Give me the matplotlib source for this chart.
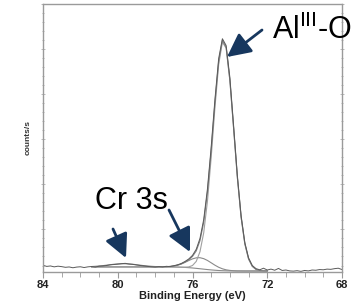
import matplotlib
matplotlib.use("Agg")
import matplotlib.pyplot as plt
from matplotlib.ticker import MultipleLocator, NullFormatter
import numpy as np

plt.rcParams["font.family"] = ["Liberation Sans", "DejaVu Sans"]
plt.rcParams["mathtext.fontset"] = "custom"
plt.rcParams["mathtext.rm"] = "Liberation Sans"
plt.rcParams["mathtext.it"] = "Liberation Sans"

# ---- data (binding energy grid, eV) ----
energy = np.linspace(84.0, 68.0, 81)
counts = [205, 180, 190, 170, 185, 175, 160, 168, 150, 165, 172, 155, 170, 178,
          165, 185, 190, 200, 215, 222, 230, 240, 248, 232, 225, 212, 200, 190,
          180, 172, 165, 175, 168, 182, 176,
          195, 215, 245, 290, 345, 425, 560, 800, 1220, 1900, 2830, 3880, 4790,
          5230, 5080, 4370, 3300, 2200, 1310, 710, 370, 200, 130, 105, 140, 100,
          120, 95, 135, 90, 100, 80, 75, 85, 70, 90, 80, 100, 95, 110, 105, 120,
          115, 130, 140, 110]

fit_energy = np.linspace(81.4, 72.0, 48)
background = [170] * 20 + [169, 168, 167, 165, 162, 158, 152, 145, 137, 128, 119,
                           110, 102, 95, 89, 85, 82, 80, 79, 78, 78, 78, 78, 78,
                           78, 78, 78, 78]
al_component = [170] * 20 + [169, 168, 167, 165, 163, 163, 169, 200, 291, 505, 926,
                             1625, 2597, 3699, 4654, 5155, 5020, 4300, 3239, 2154,
                             1274, 682, 346, 182, 113, 89, 81, 78]
cr_component = [170] * 18 + [171, 172, 174, 179, 189, 207, 234, 270, 310, 347, 370,
                             373, 352, 312, 260, 207, 161, 127, 104, 91, 84, 80, 79,
                             78] + [78] * 6
envelope = [177, 182, 189, 197, 207, 218, 228, 235, 239, 239, 235, 228, 218, 207,
            197, 189, 182, 177, 175, 174, 174, 179, 189, 207, 235, 275, 327, 402,
            524, 750, 1159, 1827, 2755, 3811, 4726, 5197, 5042, 4311, 3244, 2156,
            1275, 682, 346, 182, 113, 89, 81, 78]

x_ticks = [84, 80, 76, 72, 68]

# ---- figure ----
fig = plt.figure(figsize=(3.6, 3.07), dpi=100)
ax = fig.add_axes([43 / 360, 1 - 271.5 / 307, 299 / 360, 267.5 / 307])

ax.plot(fit_energy, background, color="#8a8a8a", lw=0.8)
ax.plot(fit_energy, cr_component, color="#8a8a8a", lw=0.8)
ax.plot(fit_energy, al_component, color="#a0a0a0", lw=0.8)
ax.plot(fit_energy, envelope, color="#808080", lw=0.8)
ax.plot(energy, counts, color="#5a5a5a", lw=0.7)

ax.set_xlim(84, 68)
ax.set_ylim(67, 6000)
ax.set_xticks(x_ticks)
ax.set_xticklabels([str(t) for t in x_ticks])
ax.xaxis.set_minor_locator(MultipleLocator(1))
ax.yaxis.set_major_locator(MultipleLocator(1000))
ax.yaxis.set_minor_locator(MultipleLocator(200))
ax.yaxis.set_major_formatter(NullFormatter())

for s in ax.spines.values():
    s.set_color("#9a9a9a")
    s.set_linewidth(1.0)

ax.tick_params(axis="x", which="both", direction="out", color="#9a9a9a",
               labelsize=8, labelcolor="#222222", pad=2)
ax.tick_params(axis="x", which="major", length=4)
ax.tick_params(axis="x", which="minor", length=3.5)
ax.tick_params(axis="y", which="both", direction="inout", color="#b0b0b0",
               left=True, right=True, width=0.6)
ax.tick_params(axis="y", which="major", length=3)
ax.tick_params(axis="y", which="minor", length=2)
for lab in ax.get_xticklabels():
    lab.set_fontweight("bold")

ax.set_xlabel("Binding Energy (eV)", fontsize=8, fontweight="bold",
              color="#222222", labelpad=1)
ax.set_ylabel("counts/s", fontsize=6, fontweight="bold", color="#333333",
              labelpad=3)

# ---- annotations ----
navy = "#17375E"
fig.text(272 / 360, 1 - 39 / 307, r"Al$^{\mathrm{III}}$-O", fontsize=22,
         ha="left", va="baseline", color="black")
fig.text(95 / 360, 1 - 209 / 307, "Cr 3s", fontsize=22, ha="left",
         va="baseline", color="black")

arrows = [((262, 30), (227, 57)), ((113, 229), (126, 258)), ((169, 210), (190, 252))]
for (tx, ty), (hx, hy) in arrows:
    ax.annotate("", xy=(hx, 307 - hy), xycoords="figure pixels",
                xytext=(tx, 307 - ty), textcoords="figure pixels",
                arrowprops=dict(arrowstyle="-|>,head_length=1.1,head_width=0.55",
                                color=navy, lw=2.0, mutation_scale=13,
                                shrinkA=0, shrinkB=0))

fig.savefig("out.png", dpi=100)
